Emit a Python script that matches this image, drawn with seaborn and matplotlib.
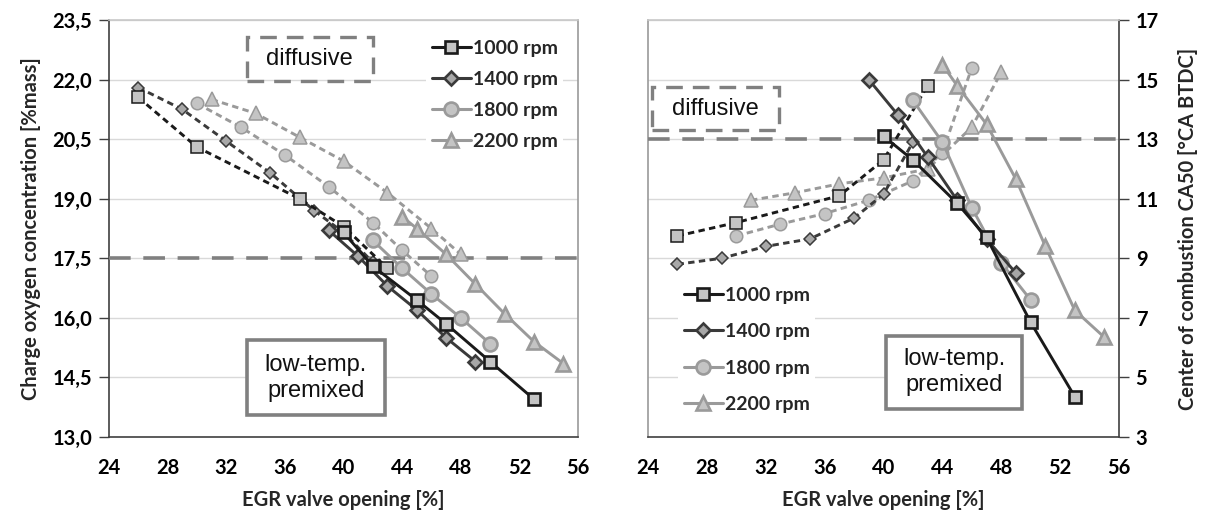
import matplotlib
matplotlib.use("Agg")
import matplotlib.pyplot as plt
from matplotlib.lines import Line2D
from matplotlib.patches import Rectangle
import pandas as pd
import seaborn as sns

# ---------------- data ----------------
speeds = ["1000 rpm", "1400 rpm", "1800 rpm", "2200 rpm"]

# EGR valve opening [%] of the operating points
egr_1000_diff = [26, 30, 37, 40, 43]
egr_1000_prem = [40, 42, 45, 47, 50, 53]
egr_1400_diff = [26, 29, 32, 35, 38, 40, 42]
egr_1400_prem = [39, 41, 43, 45, 47, 49]
egr_1800_diff = [30, 33, 36, 39, 42, 44, 46]
egr_1800_prem = [42, 44, 46, 48, 50]
egr_2200_diff = [31, 34, 37, 40, 43, 46, 48]
egr_2200_prem = [44, 45, 47, 49, 51, 53, 55]

# Charge oxygen concentration [%mass]
o2_1000_diff = [21.55, 20.3, 19.0, 18.3, 17.25]
o2_1000_prem = [18.15, 17.3, 16.45, 15.85, 14.9, 13.95]
o2_1400_diff = [21.8, 21.25, 20.45, 19.65, 18.7, 18.15, 17.4]
o2_1400_prem = [18.2, 17.55, 16.8, 16.2, 15.5, 14.9]
o2_1800_diff = [21.4, 20.8, 20.1, 19.3, 18.4, 17.7, 17.05]
o2_1800_prem = [17.95, 17.25, 16.6, 16.0, 15.35]
o2_2200_diff = [21.5, 21.15, 20.55, 19.95, 19.15, 18.25, 17.6]
o2_2200_prem = [18.55, 18.25, 17.6, 16.85, 16.1, 15.4, 14.85]

# Center of combustion CA50 [deg CA BTDC]
ca50_1000_diff = [9.75, 10.2, 11.1, 12.3, 14.8]
ca50_1000_prem = [13.1, 12.3, 10.85, 9.7, 6.85, 4.35]
ca50_1400_diff = [8.8, 9.0, 9.4, 9.65, 10.35, 11.15, 12.9]
ca50_1400_prem = [15.0, 13.8, 12.4, 10.95, 9.65, 8.5]
ca50_1800_diff = [9.75, 10.15, 10.5, 10.95, 11.6, 12.55, 15.4]
ca50_1800_prem = [14.3, 12.9, 10.7, 8.85, 7.6]
ca50_2200_diff = [10.95, 11.2, 11.5, 11.7, 12.0, 13.4, 15.25]
ca50_2200_prem = [15.5, 14.8, 13.5, 11.65, 9.4, 7.25, 6.35]

o2_threshold = 17.5
ca50_threshold = 13.0

x_ticks = [24, 28, 32, 36, 40, 44, 48, 52, 56]
o2_ticks = [13.0, 14.5, 16.0, 17.5, 19.0, 20.5, 22.0, 23.5]
o2_tick_labels = ["13,0", "14,5", "16,0", "17,5", "19,0", "20,5", "22,0", "23,5"]
ca50_ticks = [3, 5, 7, 9, 11, 13, 15, 17]
ca50_tick_labels = ["3", "5", "7", "9", "11", "13", "15", "17"]

# ---------------- long-form table ----------------
rows = []
series = {
    ("1000 rpm", "diffusive"): (egr_1000_diff, o2_1000_diff, ca50_1000_diff),
    ("1000 rpm", "premixed"): (egr_1000_prem, o2_1000_prem, ca50_1000_prem),
    ("1400 rpm", "diffusive"): (egr_1400_diff, o2_1400_diff, ca50_1400_diff),
    ("1400 rpm", "premixed"): (egr_1400_prem, o2_1400_prem, ca50_1400_prem),
    ("1800 rpm", "diffusive"): (egr_1800_diff, o2_1800_diff, ca50_1800_diff),
    ("1800 rpm", "premixed"): (egr_1800_prem, o2_1800_prem, ca50_1800_prem),
    ("2200 rpm", "diffusive"): (egr_2200_diff, o2_2200_diff, ca50_2200_diff),
    ("2200 rpm", "premixed"): (egr_2200_prem, o2_2200_prem, ca50_2200_prem),
}
for (spd, mode), (xs, o2s, cas) in series.items():
    for i, (x, o, c) in enumerate(zip(xs, o2s, cas)):
        rows.append(dict(speed=spd, mode=mode, order=i, egr=x, o2=o, ca50=c))
df = pd.DataFrame(rows)

# ---------------- styles ----------------
sns.set_theme(style="white")
plt.rcParams["font.family"] = ["Lato", "DejaVu Sans"]

style = {
    "1000 rpm": dict(marker="s", line="#1a1a1a", face="#c4c4c4", edge="#1a1a1a", ms=9.3),
    "1400 rpm": dict(marker="D", line="#3a3a3a", face="#a8a8a8", edge="#3a3a3a", ms=7.3),
    "1800 rpm": dict(marker="o", line="#9a9a9a", face="#c4c4c4", edge="#9a9a9a", ms=10.0),
    "2200 rpm": dict(marker="^", line="#9a9a9a", face="#c4c4c4", edge="#9a9a9a", ms=10.5),
}
draw_order = ["2200 rpm", "1800 rpm", "1400 rpm", "1000 rpm"]

fig = plt.figure(figsize=(12.10, 5.18), dpi=100)
ax1 = fig.add_axes([109 / 1210, 81 / 518, 469 / 1210, 417 / 518])
ax2 = fig.add_axes([648 / 1210, 81 / 518, 471 / 1210, 417 / 518])

tick_font = dict(fontsize=14.5, fontweight="bold")
label_font = dict(fontsize=14.5, fontweight="bold")
note_font = dict(fontsize=17, family=["Liberation Sans"], color="#111111")


def draw_series(ax, col):
    for mode in ["diffusive", "premixed"]:
        for spd in draw_order:
            st = style[spd]
            sub = df[(df.speed == spd) & (df["mode"] == mode)].sort_values("order")
            dashed = mode == "diffusive"
            sns.lineplot(
                data=sub, x="egr", y=col, ax=ax, sort=False, estimator=None,
                color=st["line"], lw=2.1,
                linestyle=(0, (2.2, 1.5)) if dashed else "-",
                marker=st["marker"], markersize=st["ms"] * (0.9 if dashed else 1.0),
                markerfacecolor=st["face"], markeredgecolor=st["edge"],
                markeredgewidth=1.1 if dashed else 1.9,
                legend=False, zorder=4 if dashed else 5,
            )


def style_axes(ax, yticks, ylabels, ylim, side):
    ax.set_xlim(24, 56)
    ax.set_ylim(*ylim)
    ax.set_xticks(x_ticks)
    ax.set_xticklabels([str(t) for t in x_ticks], **tick_font)
    ax.set_yticks(yticks)
    ax.set_yticklabels(ylabels, **tick_font)
    ax.grid(axis="y", color="#d9d9d9", lw=1.0, zorder=0)
    ax.grid(axis="x", visible=False)
    ax.set_axisbelow(True)
    ax.tick_params(axis="both", which="major", direction="out", length=7,
                   width=1.0, color="#404040", labelcolor="black")
    ax.tick_params(axis="x", pad=8)
    ax.tick_params(axis="y", pad=5)
    ax.spines["bottom"].set_color("#404040")
    ax.spines["top"].set_color("#c8c8c8")
    if side == "left":
        ax.spines["left"].set_color("#404040")
        ax.spines["right"].set_color("#9a9a9a")
        ax.yaxis.tick_left()
    else:
        ax.spines["left"].set_color("#9a9a9a")
        ax.spines["right"].set_color("#404040")
        ax.yaxis.tick_right()
        ax.yaxis.set_label_position("right")
    for s in ax.spines.values():
        s.set_linewidth(1.2)
    ax.set_xlabel("EGR valve opening [%]", labelpad=9, **label_font)


# ---------------- left panel: oxygen concentration ----------------
draw_series(ax1, "o2")
style_axes(ax1, o2_ticks, o2_tick_labels, (13.0, 23.5), "left")
ax1.set_ylabel("Charge oxygen concentration [%mass]", labelpad=8, **label_font)
ax1.axhline(o2_threshold, color="#808080", lw=2.6, ls=(0, (6, 3.5)), zorder=3)
ax1.add_patch(Rectangle((33.4, 21.97), 8.6, 1.1, fill=False, ec="#808080",
                        lw=2.4, ls=(0, (5, 3)), zorder=3))
ax1.text(37.7, 22.52, "diffusive", ha="center", va="center", zorder=6, **note_font)
ax1.add_patch(Rectangle((33.4, 13.55), 9.4, 1.88, fill=True, fc="white",
                        ec="#808080", lw=2.6, zorder=3))
ax1.text(38.1, 14.49, "low-temp.\npremixed", ha="center", va="center",
         linespacing=1.2, zorder=6, **note_font)

# ---------------- right panel: CA50 ----------------
draw_series(ax2, "ca50")
style_axes(ax2, ca50_ticks, ca50_tick_labels, (3, 17), "right")
ax2.set_ylabel("Center of combustion CA50 [°CA BTDC]", labelpad=14,
               rotation=90, **label_font)
ax2.axhline(ca50_threshold, color="#808080", lw=2.6, ls=(0, (6, 3.5)), zorder=3)
ax2.add_patch(Rectangle((24.3, 13.3), 8.6, 1.45, fill=False, ec="#808080",
                        lw=2.4, ls=(0, (5, 3)), zorder=3))
ax2.text(28.6, 14.0, "diffusive", ha="center", va="center", zorder=6, **note_font)
ax2.add_patch(Rectangle((40.2, 3.95), 9.2, 2.45, fill=True, fc="white",
                        ec="#808080", lw=2.6, zorder=3))
ax2.text(44.8, 5.18, "low-temp.\npremixed", ha="center", va="center",
         linespacing=1.2, zorder=6, **note_font)

# ---------------- legends ----------------
handles = [
    Line2D([0], [0], color=style[s]["line"], lw=2.2, marker=style[s]["marker"],
           markersize=style[s]["ms"], markerfacecolor=style[s]["face"],
           markeredgecolor=style[s]["edge"], markeredgewidth=1.9)
    for s in speeds
]
leg_kw = dict(handlelength=2.0, handletextpad=0.1, borderpad=0.3,
              frameon=True, fancybox=False, framealpha=1.0,
              prop=dict(size=14, weight="bold"))
leg1 = ax1.legend(handles, speeds, loc="upper left",
                  bbox_to_anchor=(0.655, 0.99), labelspacing=0.72, **leg_kw)
leg1.get_frame().set_edgecolor("none")
leg1.set_zorder(2)
leg2 = ax2.legend(handles, speeds, loc="lower left",
                  bbox_to_anchor=(0.043, 0.02), labelspacing=1.0, **leg_kw)
leg2.get_frame().set_edgecolor("none")
leg2.set_zorder(2)

fig.savefig("out.png", dpi=100)
